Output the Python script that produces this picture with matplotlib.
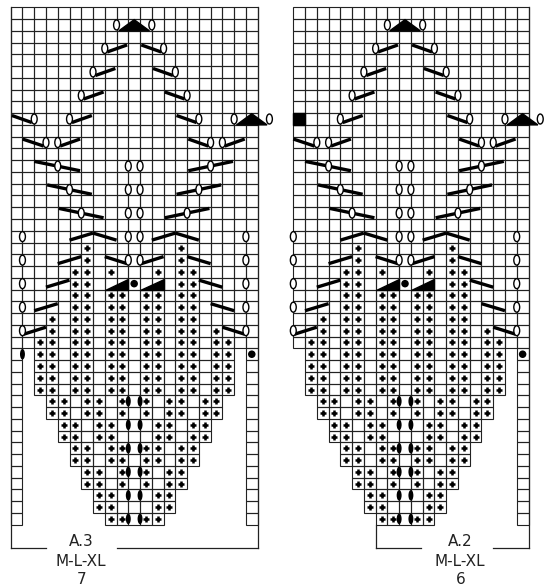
import matplotlib
matplotlib.use("Agg")
import matplotlib.pyplot as plt
from matplotlib.patches import Rectangle, Ellipse, Polygon, Circle

# chart data, in cell units of the A.3 chart (A.2 is the same without column 0)
n_rows = 44
n_cols = 21
# lower part: first and last column of the middle block, rows 29..43
lower_start = [2, 2, 2, 2, 3, 3, 4, 4, 5, 5, 6, 6, 7, 7, 8]
lower_end = [18, 18, 18, 18, 17, 17, 16, 16, 15, 15, 14, 14, 13, 13, 12]

# yarn overs (white ovals): (row, column line)
ovals = [(1, 9), (1, 12), (3, 8), (3, 13), (5, 7), (5, 14), (7, 6), (7, 15),
         (9, 2), (9, 5), (9, 16), (9, 19), (9, 22),
         (11, 3), (11, 4), (11, 17), (11, 18),
         (13, 4), (13, 10), (13, 11), (13, 17),
         (15, 5), (15, 10), (15, 11), (15, 16),
         (17, 6), (17, 10), (17, 11), (17, 15),
         (19, 1), (19, 10), (19, 11), (19, 20),
         (21, 1), (21, 10), (21, 11), (21, 20),
         (23, 1), (23, 20), (25, 1), (25, 20), (27, 1), (27, 20)]

# slanted bars: (row, from, to, +1 rising / -1 falling)
bars = [(3, 8.2, 9.9, 1), (3, 11.1, 12.8, -1),
        (5, 7.2, 8.9, 1), (5, 12.1, 13.8, -1),
        (7, 6.2, 7.9, 1), (7, 13.1, 14.8, -1),
        (9, 0.1, 1.8, -1), (9, 5.2, 6.9, 1), (9, 14.1, 15.8, -1),
        (11, 1.0, 2.8, -1), (11, 4.2, 5.9, 1), (11, 15.1, 16.8, -1), (11, 18.2, 19.9, 1),
        (13, 2.0, 5.9, -1), (13, 15.1, 18.9, 1),
        (15, 3.1, 6.9, -1), (15, 14.1, 17.9, 1),
        (17, 4.1, 7.9, -1), (17, 13.1, 16.9, 1),
        (19, 5, 7, 1), (19, 7, 9, -1), (19, 12, 14, 1), (19, 14, 16, -1),
        (21, 4, 6, 1), (21, 8, 9.9, -1), (21, 11.1, 13, 1), (21, 15, 17, -1),
        (23, 3, 5, 1), (23, 16, 18, -1),
        (25, 2, 4, 1), (25, 17, 19, -1),
        (27, 1.1, 3, 1), (27, 18, 19.9, -1)]

triangles = [(1, 10.5), (9, 20.5)]
wedges = [(23, 8, 10), (23, 11, 13)]
dots = [(23, 10.5), (29, 20.5)]
black_ovals = [(29, 1)] + [(r, u) for r in (33, 35, 37, 39, 41, 43) for u in (10, 11)]

p4 = [5, 6, 8, 9, 11, 12, 14, 15]
plus_rows = {20: [6, 14], 21: [6, 14], 22: [5, 6, 8, 12, 14, 15], 23: [5, 6, 14, 15],
             24: p4, 25: p4, 26: [3] + p4, 27: [3] + p4 + [17]}
for r in range(28, 33):
    plus_rows[r] = [2, 3] + p4 + [17, 18]
for r, cols in [(33, [3, 4, 6, 7, 9, 11, 13, 14, 16, 17]), (35, [4, 5, 7, 8, 12, 13, 15, 16]),
                (37, [5, 6, 8, 9, 11, 12, 14, 15]), (39, [6, 7, 9, 11, 13, 14]),
                (41, [7, 8, 12, 13]), (43, [8, 9, 11, 12])]:
    plus_rows[r] = cols
    if r < 43:
        plus_rows[r + 1] = cols

charts = [
    {"x0": 10.7, "first": 0, "name": "A.3", "sizes": "M-L-XL", "num": "7", "text_u": 6.0,
     "bottom": [(0, 3), (9, 21)], "verticals": [(0, 0, 46), (21, 0, 46)]},
    {"x0": 281.54, "first": 1, "name": "A.2", "sizes": "M-L-XL", "num": "6", "text_u": 15.2,
     "bottom": [(8, 11.9), (18, 21)], "verticals": [(8, 44, 46), (21, 0, 46)]},
]

S = 11.76
Y0 = 7.3

fig = plt.figure(figsize=(5.5, 5.88), dpi=100)
ax = fig.add_axes([0, 0, 1, 1])
ax.set_xlim(0, 550)
ax.set_ylim(588, 0)
ax.axis("off")
lc = "#222222"

for ch in charts:
    x0 = ch["x0"]
    first = ch["first"]
    X = lambda u: x0 + u * S
    Y = lambda v: Y0 + v * S

    # cells
    for r in range(n_rows):
        if r < 29:
            cols = list(range(first, n_cols))
        else:
            cols = list(range(lower_start[r - 29], lower_end[r - 29] + 1)) + [20]
            if first == 0:
                cols.append(0)
        for c in cols:
            ax.add_patch(Rectangle((X(c), Y(r)), S, S, fill=False, ec=lc, lw=0.8))

    # frame
    for u, v1, v2 in ch["verticals"]:
        ax.plot([X(u), X(u)], [Y(v1), Y(v2)], color=lc, lw=0.9)
    for u1, u2 in ch["bottom"]:
        ax.plot([X(u1), X(u2)], [Y(46), Y(46)], color=lc, lw=0.9)

    # bars
    for r, u1, u2, d in bars:
        if first == 1 and (u1 < 1 or r == 9 and u2 < 2.5):
            continue
        dv = 0.6 if u2 - u1 < 2.5 else 0.8
        ax.plot([X(u1), X(u2)], [Y(r + 0.5 + d * dv / 2), Y(r + 0.5 - d * dv / 2)],
                color="black", lw=2.4, solid_capstyle="butt", zorder=3)

    for r, u in ovals:
        if first == 1 and (u < 1 or (r == 9 and u == 2)):
            continue
        ax.add_patch(Ellipse((X(u), Y(r + 0.5)), 0.5 * S, 0.85 * S, fc="white",
                             ec="black", lw=1.0, zorder=4))

    for r, u in triangles:
        ax.add_patch(Polygon([(X(u - 1.3), Y(r + 1)), (X(u + 1.3), Y(r + 1)),
                              (X(u), Y(r + 0.05))], closed=True, fc="black", ec="black", zorder=3))
    for r, u1, u2 in wedges:
        ax.add_patch(Polygon([(X(u1), Y(r + 1)), (X(u2), Y(r + 1)), (X(u2), Y(r + 0.1))],
                             closed=True, fc="black", ec="black", zorder=3))
    for r, u in dots:
        ax.add_patch(Circle((X(u), Y(r + 0.5)), 0.32 * S, fc="black", zorder=4))
    for r, u in black_ovals:
        if first == 1 and u < 2:
            continue
        ax.add_patch(Ellipse((X(u), Y(r + 0.5)), 0.42 * S, 0.9 * S, fc="black", zorder=4))

    if first == 1:
        ax.add_patch(Rectangle((X(1), Y(9)), S, S, fc="black", ec="black", zorder=3))

    for r, cols in plus_rows.items():
        ax.plot([X(c + 0.5) for c in cols], [Y(r + 0.5)] * len(cols), ls="none",
                marker="+", ms=5, mew=1.8, color="black", zorder=3)

    tx = X(ch["text_u"])
    ax.text(tx, 541, ch["name"], ha="center", va="center", fontsize=11, color=lc)
    ax.text(tx, 561, ch["sizes"], ha="center", va="center", fontsize=11, color=lc)
    ax.text(tx, 580, ch["num"], ha="center", va="center", fontsize=11, color=lc)

fig.savefig("out.png", dpi=100)
